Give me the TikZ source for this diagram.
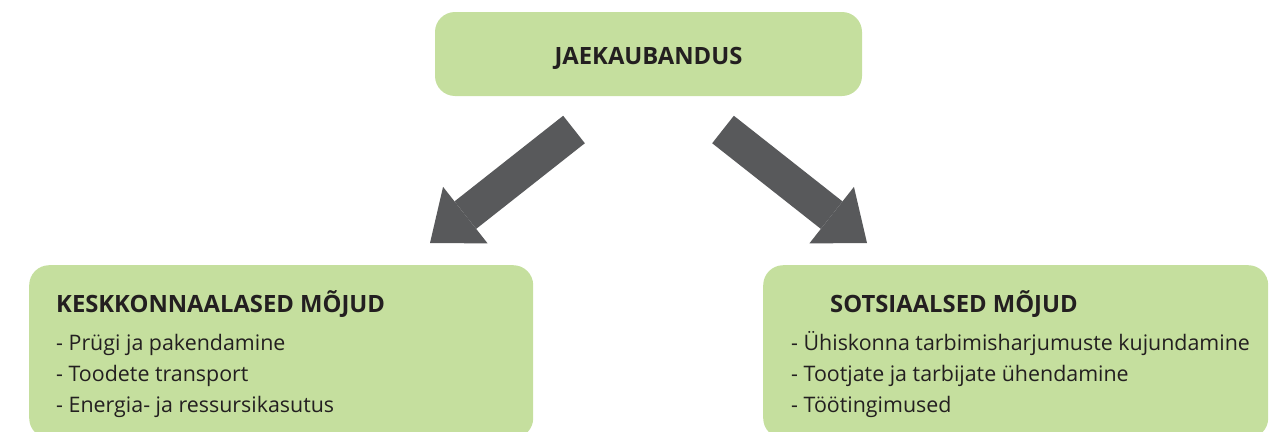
\documentclass[tikz,border=0pt]{standalone}
\usepackage{fontspec}
\setmainfont{Open Sans}
\usetikzlibrary{arrows.meta}
\definecolor{boxgreen}{RGB}{197,223,158}
\definecolor{arrowgrey}{RGB}{88,89,91}
\definecolor{textblack}{RGB}{35,31,32}

\begin{document}
\begin{tikzpicture}[x=1pt, y=-1pt,
	box/.style={fill=boxgreen, rounded corners=20pt, inner sep=0pt},
	heading/.style={anchor=base west, inner sep=0pt, text=textblack, font=\fontsize{23.8}{28}\selectfont\bfseries},
	item/.style={anchor=base west, inner sep=0pt, text=textblack, font=\fontsize{21.4}{25}\selectfont},
	bigarrow/.style={arrowgrey, line width=35pt, -{Triangle[width=72pt, length=45pt, line width=0pt]}}]
	\useasboundingbox (0,0) rectangle (1273,431);
	\clip (0,0) rectangle (1273,431);
	
	% boxes
	\node[box, minimum width=427pt, minimum height=84pt] (retail) at (648.5,54) {};
	\node[box, anchor=north west, minimum width=504pt, minimum height=173pt] (envbox) at (29,265) {};
	\node[box, anchor=north west, minimum width=505pt, minimum height=173pt] (socbox) at (763,265) {};
	
	% texts
	\node[heading, anchor=base] (retailtxt) at (648.5,64) {JAEKAUBANDUS};
	
	\node[heading] (envhead) at (56,312) {KESKKONNAALASED MÕJUD};
	\node[item] (enva) at (56,350) {- Prügi ja pakendamine};
	\node[item] (envb) at (56,381.5) {- Toodete transport};
	\node[item] (envc) at (56,412) {- Energia- ja ressursikasutus};
	
	\node[heading] (sochead) at (830,312) {SOTSIAALSED MÕJUD};
	\node[item] (soca) at (791,350) {- Ühiskonna tarbimisharjumuste kujundamine};
	\node[item] (socb) at (791,381.5) {- Tootjate ja tarbijate ühendamine};
	\node[item] (socc) at (791,412) {- Töötingimused};
	
	% arrows
	\coordinate (lefttail) at (574,129.5);
	\coordinate (lefttip) at (430,243);
	\coordinate (righttail) at (723,129.5);
	\coordinate (righttip) at (867,243);
	\draw[bigarrow] (lefttail) -- (lefttip);
	\draw[bigarrow] (righttail) -- (righttip);
\end{tikzpicture}
\end{document}
